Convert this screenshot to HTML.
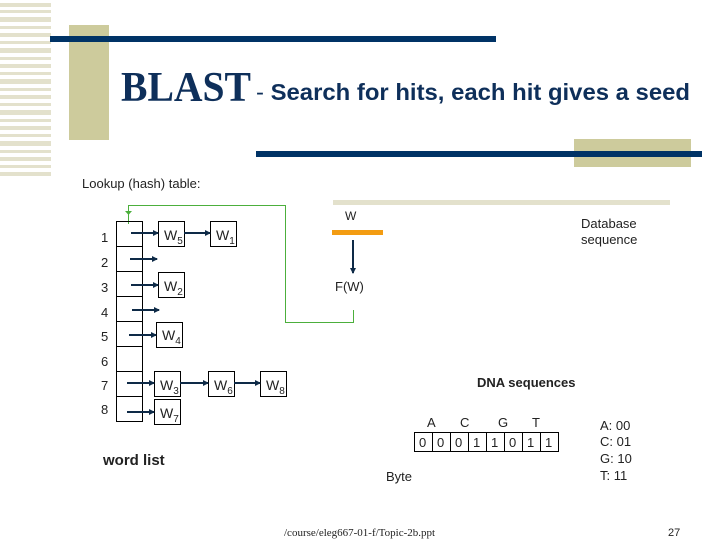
<!DOCTYPE html>
<html><head><style>
body{margin:0;width:720px;height:540px;background:#fff;position:relative;overflow:hidden;font-family:"Liberation Sans",sans-serif}
.a{position:absolute}
</style></head><body>
<svg class="a" style="left:0;top:0" width="720" height="540">
<g fill="#e3e1cc">
<rect x="0" y="3" width="51" height="4"/><rect x="0" y="10" width="51" height="3"/><rect x="0" y="17" width="51" height="5"/><rect x="0" y="26" width="51" height="3"/><rect x="0" y="33" width="51" height="4"/><rect x="0" y="41" width="51" height="3"/><rect x="0" y="48" width="51" height="5"/><rect x="0" y="57" width="51" height="3"/><rect x="0" y="64" width="51" height="4"/><rect x="0" y="72" width="51" height="3"/><rect x="0" y="79" width="51" height="5"/><rect x="0" y="88" width="51" height="3"/><rect x="0" y="95" width="51" height="4"/><rect x="0" y="103" width="51" height="3"/><rect x="0" y="110" width="51" height="5"/><rect x="0" y="119" width="51" height="3"/><rect x="0" y="126" width="51" height="4"/><rect x="0" y="134" width="51" height="3"/><rect x="0" y="141" width="51" height="5"/><rect x="0" y="150" width="51" height="3"/><rect x="0" y="157" width="51" height="4"/><rect x="0" y="165" width="51" height="3"/><rect x="0" y="172" width="51" height="4"/>
<rect x="333" y="200" width="337" height="5"/>
</g>
<rect x="69" y="25" width="40" height="115" fill="#cdcb9c"/>
<rect x="574" y="139" width="117" height="28" fill="#cdcb9c"/>
<rect x="50" y="36" width="446" height="6" fill="#003366"/>
<rect x="256" y="151" width="446" height="6" fill="#003366"/>
<defs><marker id="ar" markerWidth="6" markerHeight="6" refX="5" refY="3" orient="auto" markerUnits="userSpaceOnUse"><path d="M0,0L6,3L0,6z" fill="#0e2a47"/></marker></defs>
<polyline points="353.5,310 353.5,322.5 285.5,322.5 285.5,205.5 128.5,205.5 128.5,224" fill="none" stroke="#4caf3c" stroke-width="1"/>
<path d="M125,211L132,211L128.5,215z" fill="#4caf3c"/>
<g fill="none" stroke="#000" stroke-width="1">
<rect x="116.5" y="221.5" width="26" height="200"/>
<path d="M116,246.5H142M116,271.5H142M116,296.5H142M116,321.5H142M116,346.5H142M116,371.5H142M116,396.5H142"/>
<rect x="158.5" y="221.5" width="26" height="25"/><rect x="210.5" y="221.5" width="26" height="25"/>
<rect x="158.5" y="272.5" width="26" height="25"/><rect x="156.5" y="322.5" width="26" height="25"/>
<rect x="154.5" y="371.5" width="26" height="25"/><rect x="208.5" y="371.5" width="26" height="25"/><rect x="260.5" y="371.5" width="26" height="25"/>
<rect x="154.5" y="399.5" width="26" height="25"/>
<rect x="414.5" y="432.5" width="144" height="19"/>
<path d="M432.5,432V451M450.5,432V451M468.5,432V451M486.5,432V451M504.5,432V451M522.5,432V451M540.5,432V451"/>
</g>
<g stroke="#0e2a47" stroke-width="2" marker-end="url(#ar)">
<line x1="131" y1="233" x2="158" y2="233"/><line x1="184" y1="233" x2="210" y2="233"/>
<line x1="130" y1="259" x2="157" y2="259"/>
<line x1="131" y1="285" x2="158" y2="285"/>
<line x1="132" y1="310" x2="159" y2="310"/>
<line x1="129" y1="335" x2="156" y2="335"/>
<line x1="127" y1="383" x2="154" y2="383"/><line x1="180" y1="383" x2="208" y2="383"/><line x1="234" y1="383" x2="260" y2="383"/>
<line x1="127" y1="412" x2="154" y2="412"/>
<line x1="353" y1="240" x2="353" y2="273"/>
</g>
<rect x="332" y="230" width="51" height="5" fill="#f39c12"/>
<g font-family="Liberation Sans,sans-serif" font-size="13" fill="#222">
<text x="101" y="242">1</text><text x="101" y="267">2</text><text x="101" y="292">3</text><text x="101" y="317">4</text><text x="101" y="341">5</text><text x="101" y="366">6</text><text x="101" y="390">7</text><text x="101" y="414">8</text>
<g font-size="14"><text x="164" y="240">W<tspan font-size="10" dy="4">5</tspan></text><text x="216" y="240">W<tspan font-size="10" dy="4">1</tspan></text>
<text x="164" y="291">W<tspan font-size="10" dy="4">2</tspan></text><text x="162" y="340">W<tspan font-size="10" dy="4">4</tspan></text>
<text x="160" y="390">W<tspan font-size="10" dy="4">3</tspan></text><text x="214" y="390">W<tspan font-size="10" dy="4">6</tspan></text><text x="266" y="390">W<tspan font-size="10" dy="4">8</tspan></text>
<text x="160" y="418">W<tspan font-size="10" dy="4">7</tspan></text></g>
<text x="345" y="220" font-size="12">W</text>
<text x="335" y="291" font-size="13">F(W)</text>
<text x="581" y="228">Database</text><text x="581" y="244">sequence</text>
<text x="82" y="188" font-size="13">Lookup (hash) table:</text>
<text x="477" y="387" font-weight="bold" font-size="13">DNA sequences</text>
<text x="427" y="427">A</text><text x="460" y="427">C</text><text x="498" y="427">G</text><text x="532" y="427">T</text>
<text x="419" y="447">0</text><text x="437" y="447">0</text><text x="455" y="447">0</text><text x="473" y="447">1</text><text x="491" y="447">1</text><text x="509" y="447">0</text><text x="527" y="447">1</text><text x="545" y="447">1</text>
<text x="386" y="481">Byte</text>
<text x="600" y="430">A:  00</text><text x="600" y="446">C:  01</text><text x="600" y="463">G: 10</text><text x="600" y="480">T:  11</text>
<text x="103" y="465" font-weight="bold" font-size="15">word list</text>
<text x="668" y="536" font-size="11">27</text>
<text x="284" y="536" font-family="Liberation Serif,serif" font-size="11">/course/eleg667-01-f/Topic-2b.ppt</text>
</g>
<text x="121" y="101" font-family="Liberation Serif,serif" font-size="42" font-weight="bold" fill="#0e2f5a" textLength="130" lengthAdjust="spacingAndGlyphs">BLAST</text>
<text x="256" y="100" font-family="Liberation Sans,sans-serif" font-size="23" font-weight="bold" fill="#0e2f5a" textLength="434" lengthAdjust="spacingAndGlyphs"><tspan font-weight="normal">-</tspan> Search for hits, each hit gives a seed</text>
</svg>
</body></html>
